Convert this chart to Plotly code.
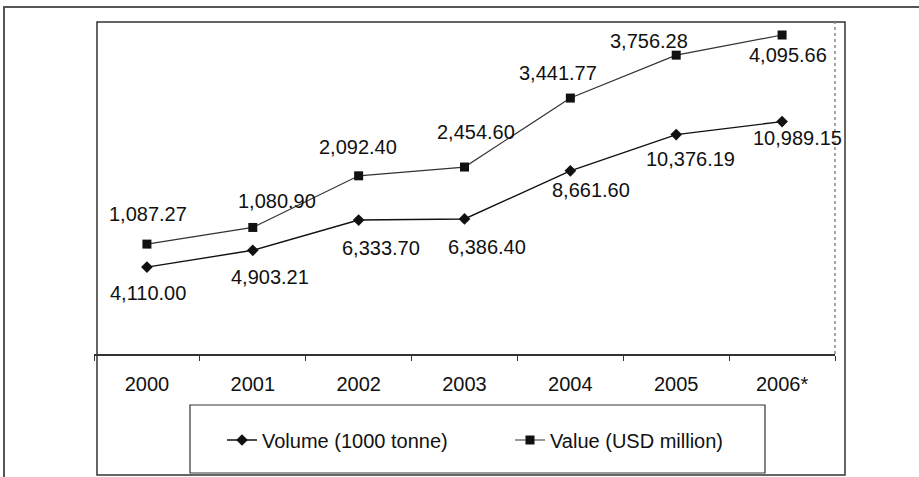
import numpy as np
import plotly.graph_objects as go

# ---- data ----
years = ["2000", "2001", "2002", "2003", "2004", "2005", "2006*"]
volume = [4110.00, 4903.21, 6333.70, 6386.40, 8661.60, 10376.19, 10989.15]   # 1000 tonne
value = [1087.27, 1080.90, 2092.40, 2454.60, 3441.77, 3756.28, 4095.66]      # USD million

# stacked line chart: Value is drawn on top of Volume
value_stacked = list(np.array(volume) + np.array(value))

# label offsets (pixels) – styling only
vol_dx = [1, 17, 22, 22, 21, 14, 15]
vol_dy = [-26, -27, -28, -28, -19, -24, -16]
val_dx = [1, 24, -1, 11, -12, -27, 6]
val_dy = [30, 26, 29, 35, 25, 14, -20]

FONT = "Liberation Sans, Arial, sans-serif"
W, H = 919, 477
# plot area in page pixels: x 94..835, y 22..354
L, T = 94, 22
R = W - 835
B = H - 354
PW, PH = W - L - R, H - T - B


def px(x):
    return (x - L) / PW


def py(y):
    return (H - B - y) / PH


fig = go.Figure()
fig.add_trace(go.Scatter(
    x=years, y=volume, mode="lines+markers", name="Volume (1000 tonne)",
    line=dict(color="#111", width=1.4),
    marker=dict(symbol="diamond", size=9, color="#111"),
))
fig.add_trace(go.Scatter(
    x=years, y=value_stacked, mode="lines+markers", name="Value (USD million)",
    line=dict(color="#333", width=1.2),
    marker=dict(symbol="square", size=9, color="#111"),
))

ann = []
for i, yr in enumerate(years):
    # category index i corresponds to years[i]
    ann.append(dict(x=i, y=volume[i], text=f"{volume[i]:,.2f}", showarrow=False,
                    xshift=vol_dx[i], yshift=vol_dy[i],
                    font=dict(family=FONT, size=20, color="#111")))
    ann.append(dict(x=i, y=value_stacked[i], text=f"{value[i]:,.2f}", showarrow=False,
                    xshift=val_dx[i], yshift=val_dy[i],
                    font=dict(family=FONT, size=20, color="#111")))

shapes = [
    # outer frame
    dict(type="rect", xref="paper", yref="paper", x0=px(4), x1=px(940), y0=py(7), y1=py(500),
         line=dict(color="#555", width=2)),
    # chart box
    dict(type="rect", xref="paper", yref="paper", x0=px(97), x1=px(845), y0=py(22), y1=py(475),
         line=dict(color="#333", width=1.5)),
    # plot area right edge (dotted)
    dict(type="line", xref="paper", yref="paper", x0=1, x1=1, y0=0, y1=py(22),
         line=dict(color="#888", width=1.5, dash="dot")),
    # legend box
    dict(type="rect", xref="paper", yref="paper", x0=px(190), x1=px(765), y0=py(405), y1=py(473),
         line=dict(color="#333", width=1.2)),
]

fig.update_layout(
    width=W, height=H,
    margin=dict(l=L, r=R, t=T, b=B, autoexpand=False),
    paper_bgcolor="white", plot_bgcolor="white",
    font=dict(family=FONT, size=20, color="#111"),
    showlegend=True,
    legend=dict(orientation="h", x=px(222), xanchor="left", y=py(440), yanchor="middle",
                entrywidth=243, entrywidthmode="pixels",
                font=dict(family=FONT, size=20, color="#111"),
                bgcolor="rgba(0,0,0,0)"),
    xaxis=dict(type="category", range=[-0.5, len(years) - 0.5], autorange=False,
               categoryorder="array", categoryarray=years,
               showgrid=False, zeroline=False, automargin=False,
               showline=True, linecolor="#333", linewidth=1.5,
               ticks="outside", tickson="boundaries", ticklen=5, tickcolor="#333",
               ticklabelstandoff=11, tickangle=0,
               tickfont=dict(family=FONT, size=20, color="#111")),
    yaxis=dict(range=[0, 15700], visible=False, showgrid=False, zeroline=False),
    annotations=ann,
    shapes=shapes,
)

fig.write_html("out.html", config={"displayModeBar": False},
               post_script="document.body.style.margin='0';")
